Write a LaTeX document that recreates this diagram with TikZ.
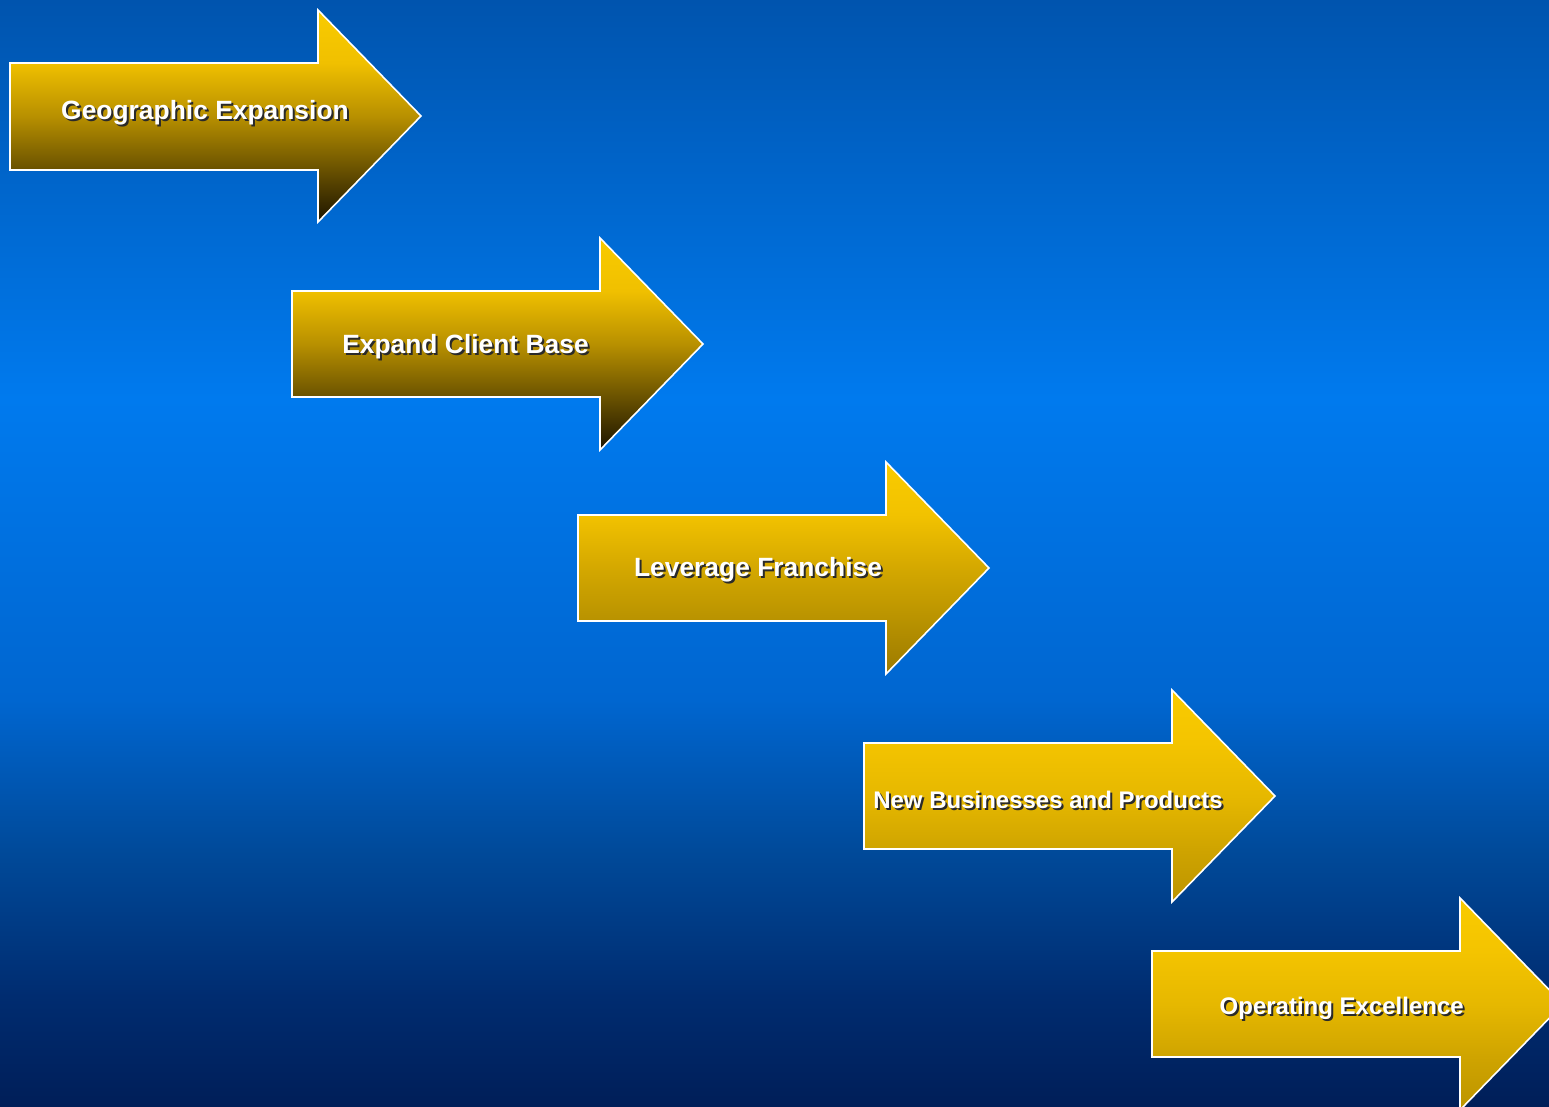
\documentclass[tikz,border=0pt]{standalone}
\usepackage{fontspec}
\setmainfont{Liberation Sans}
\usepackage{xcolor}

\definecolor{shadowgray}{HTML}{2A2A2A}

% slide background, bottom (25bp) to top (75bp)
\pgfdeclareverticalshading{slidebg}{100bp}{%
  color(0bp)=(rgb,255:red,0;green,30;blue,88);
  color(25bp)=(rgb,255:red,0;green,30;blue,88);
  color(30bp)=(rgb,255:red,0;green,44;blue,112);
  color(36.6bp)=(rgb,255:red,0;green,74;blue,154);
  color(43.4bp)=(rgb,255:red,0;green,102;blue,208);
  color(57bp)=(rgb,255:red,0;green,122;blue,238);
  color(75bp)=(rgb,255:red,0;green,84;blue,174);
  color(100bp)=(rgb,255:red,0;green,84;blue,174)}

% gold arrows
\pgfdeclareverticalshading{golddark}{100bp}{%
  color(0bp)=(rgb,255:red,28;green,20;blue,0);
  color(25bp)=(rgb,255:red,28;green,20;blue,0);
  color(37.5bp)=(rgb,255:red,106;green,82;blue,0);
  color(50bp)=(rgb,255:red,184;green,144;blue,0);
  color(62.5bp)=(rgb,255:red,240;green,192;blue,0);
  color(75bp)=(rgb,255:red,249;green,203;blue,0);
  color(100bp)=(rgb,255:red,249;green,203;blue,0)}
\pgfdeclareverticalshading{goldmid}{100bp}{%
  color(0bp)=(rgb,255:red,156;green,122;blue,0);
  color(25bp)=(rgb,255:red,156;green,122;blue,0);
  color(37.5bp)=(rgb,255:red,184;green,146;blue,0);
  color(50bp)=(rgb,255:red,212;green,168;blue,0);
  color(62.5bp)=(rgb,255:red,242;green,194;blue,0);
  color(75bp)=(rgb,255:red,249;green,203;blue,0);
  color(100bp)=(rgb,255:red,249;green,203;blue,0)}
\pgfdeclareverticalshading{goldlight}{100bp}{%
  color(0bp)=(rgb,255:red,188;green,148;blue,0);
  color(25bp)=(rgb,255:red,188;green,148;blue,0);
  color(37.5bp)=(rgb,255:red,207;green,164;blue,0);
  color(50bp)=(rgb,255:red,230;green,184;blue,0);
  color(62.5bp)=(rgb,255:red,244;green,196;blue,0);
  color(75bp)=(rgb,255:red,249;green,203;blue,0);
  color(100bp)=(rgb,255:red,249;green,203;blue,0)}

\newcommand{\shadowlabel}[1]{%
  \makebox[0pt][l]{\kern2pt\raisebox{-2pt}{\textcolor{shadowgray}{#1}}}%
  \textcolor{white}{#1}}

\tikzset{
  arrowline/.style={draw=white, line width=1.6pt, line join=miter},
  arrowtext/.style={anchor=base, inner sep=0pt, font=\bfseries\fontsize{26.4}{30}\selectfont},
  arrowsmall/.style={arrowtext, font=\bfseries\fontsize{24}{28}\selectfont}
}

\begin{document}
\begin{tikzpicture}[x=1pt,y=-1pt]
    % slide background
    \useasboundingbox (0,0) rectangle (1549,1107);
    \shade[shading=slidebg] (0,0) rectangle (1549,1107);
    \clip (0,0) rectangle (1549,1107);

    % first arrow
    \shadedraw[arrowline, shading=golddark] (10,63) -- (318,63) -- (318,10) -- (421,116)
        -- (318,222) -- (318,170) -- (10,170) -- cycle;
    \node[arrowtext] (geo) at (205,119.5) {\shadowlabel{Geographic Expansion}};

    % second arrow
    \shadedraw[arrowline, shading=golddark] (292,291) -- (600,291) -- (600,238) -- (703,344)
        -- (600,450) -- (600,397) -- (292,397) -- cycle;
    \node[arrowtext] (client) at (465.5,353.5) {\shadowlabel{Expand Client Base}};

    % third arrow
    \shadedraw[arrowline, shading=goldmid] (578,515) -- (886,515) -- (886,462) -- (989,568)
        -- (886,674) -- (886,621) -- (578,621) -- cycle;
    \node[arrowtext] (franchise) at (758,576.7) {\shadowlabel{Leverage Franchise}};

    % fourth arrow
    \shadedraw[arrowline, shading=goldlight] (864,743) -- (1172,743) -- (1172,690) -- (1275,796)
        -- (1172,902) -- (1172,849) -- (864,849) -- cycle;
    \node[arrowsmall] (newbiz) at (1048,808.3) {\shadowlabel{New Businesses and Products}};

    % fifth arrow, runs off the slide
    \shadedraw[arrowline, shading=goldlight] (1152,951) -- (1460,951) -- (1460,898) -- (1563,1004)
        -- (1460,1110) -- (1460,1057) -- (1152,1057) -- cycle;
    \node[arrowsmall] (opex) at (1341.7,1014.5) {\shadowlabel{Operating Excellence}};
\end{tikzpicture}
\end{document}
